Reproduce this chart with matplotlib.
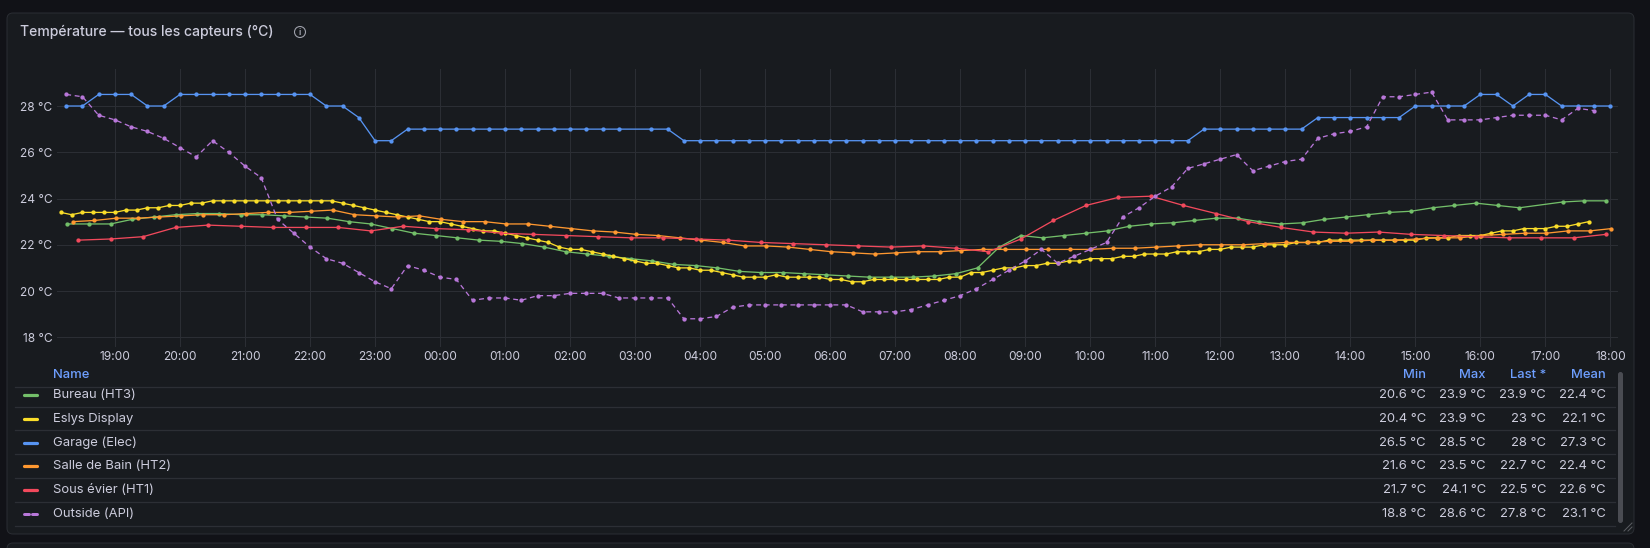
import numpy as np
import pandas as pd
import matplotlib
matplotlib.use("Agg")
import matplotlib.pyplot as plt
import matplotlib.dates as mdates
from matplotlib.patches import FancyBboxPatch, Circle
from matplotlib.lines import Line2D

nan = np.nan

# Bureau (HT3) - un point toutes les 20 min depuis 18:16
bureau = [22.9, 22.9, 22.9,
          23.1, 23.2, 23.3, 23.35, 23.35, 23.3, 23.3, 23.25, 23.2,
          23.15, 23.0, 22.9, 22.7, 22.5, 22.4, 22.3, 22.2, 22.15,
          22.05, 21.9, 21.7, 21.6, 21.5, 21.4, 21.3, 21.15, 21.1,
          21.0, 20.85, 20.8, 20.8, 20.75, 20.7, 20.65, 20.6, 20.6,
          20.6, 20.65, 20.75, 21.0, 21.9, 22.4, 22.3, 22.4, 22.5,
          22.6, 22.8, 22.9, 22.95, 23.05, 23.15, 23.15, 23.0, 22.9,
          22.95, 23.1, 23.2, 23.3, 23.4, 23.45, 23.6, 23.7, 23.8,
          23.7, 23.6, nan, 23.85, 23.9, 23.9]

# Eslys Display - toutes les 10 min depuis 18:10
eslys = [23.4, 23.3, 23.4, 23.4, 23.4,
         23.4, 23.5, 23.5, 23.6, 23.6, 23.7,
         23.7, 23.8, 23.8, 23.9, 23.9, 23.9,
         23.9, 23.9, 23.9, 23.9, 23.9, 23.9,
         23.9, 23.9, 23.9, 23.8, 23.7, 23.6,
         23.5, 23.4, 23.3, 23.2, 23.1, 23.0,
         23.0, 22.9, 22.8, 22.7, 22.6, 22.6,
         22.5, 22.4, 22.3, 22.2, 22.1, 21.9,
         21.8, 21.8, 21.7, 21.6, 21.5, 21.4,
         21.3, 21.2, 21.2, 21.1, 21.0, 21.0,
         20.9, 20.9, 20.8, 20.7, 20.6, 20.6,
         20.6, 20.7, 20.6, 20.6, 20.6, 20.6,
         20.5, 20.5, 20.4, 20.4, 20.5, 20.5,
         20.5, 20.5, 20.5, 20.5, 20.5, 20.6,
         20.6, 20.8, 20.8, 20.9, 21.0, 21.0,
         21.1, 21.1, 21.2, 21.2, 21.3, 21.3,
         21.4, 21.4, 21.4, 21.5, 21.5, 21.6,
         21.6, 21.6, 21.7, 21.7, 21.7, 21.8,
         21.8, 21.9, 21.9, 21.9, 22.0, 22.0,
         22.0, 22.1, 22.1, 22.1, 22.2, 22.2,
         22.2, 22.2, 22.2, 22.2, 22.2, 22.2,
         22.2, 22.3, 22.3, 22.3, 22.4, 22.4,
         22.4, 22.5, 22.6, 22.6, 22.7, 22.7,
         22.7, 22.8, 22.8, 22.9, 23.0]

# Garage (Elec) - toutes les 15 min depuis 18:15
garage = [28.0, 28.0, 28.5, 28.5, 28.5, 28.0, 28.0,
          28.5, 28.5, 28.5, 28.5, 28.5, 28.5, 28.5, 28.5, 28.5,
          28.0, 28.0, 27.5, 26.5, 26.5,
          27.0, 27.0, 27.0, 27.0, 27.0, 27.0, 27.0,
          27.0, 27.0, 27.0, 27.0, 27.0, 27.0, 27.0,
          nan, 27.0, 27.0,
          26.5, 26.5, 26.5, 26.5, 26.5, 26.5, 26.5, 26.5,
          26.5, 26.5, 26.5, 26.5, 26.5, 26.5, 26.5, 26.5,
          26.5, 26.5, 26.5, 26.5, 26.5, 26.5, 26.5, 26.5,
          26.5, 26.5, 26.5, 26.5, 26.5, 26.5, 26.5, 26.5,
          27.0, 27.0, 27.0, 27.0, 27.0, 27.0, 27.0,
          27.5, 27.5, 27.5, 27.5, 27.5, 27.5,
          28.0, 28.0, 28.0, 28.0,
          28.5, 28.5, 28.0, 28.5, 28.5,
          28.0, 28.0, 28.0, 28.0]

# Salle de Bain (HT2) - toutes les 20 min depuis 18:21
salle_bain = [23.0, 23.05,
              23.15, 23.15, 23.2, 23.25, 23.3, 23.3, 23.35, 23.4, 23.4,
              23.45, 23.5, 23.3, 23.25, 23.2, 23.25, 23.1, 23.0, 23.0,
              22.9, 22.9, 22.8, 22.7, 22.6, 22.55, 22.45, 22.4, 22.3,
              22.2, 22.1, 21.95, 21.95, 21.9, 21.8, 21.7, 21.65, 21.6,
              21.65, 21.7, 21.7, 21.75, 21.8, 21.8, 21.8, 21.8, 21.8,
              21.8, 21.85, 21.85, 21.9, 21.95, 22.0, 22.0, 22.0, 22.05,
              22.1, 22.1, 22.15, 22.15, 22.2, 22.2, 22.25, 22.3, 22.3,
              22.4, 22.45, 22.5, 22.5, 22.6, 22.6, 22.7]

# Sous évier (HT1) - toutes les 30 min depuis 18:26
sous_evier = [22.2, 22.25, 22.35, 22.75, 22.85, 22.8, 22.75, 22.75,
              22.75, 22.6, 22.8, 22.7, 22.65, 22.5,
              22.45, 22.4, 22.35, 22.3, 22.3, 22.25, 22.2, 22.1,
              22.05, 22.0, 21.95, 21.9, 21.95, 21.85, 21.7, 22.25,
              23.05, 23.7, 24.05, 24.1, 23.7, 23.35, 23.0, 22.75,
              22.55, 22.5, 22.55, 22.45, 22.4, 22.35, 22.3, 22.3,
              22.3, 22.45]

# Outside (API) - toutes les 15 min depuis 18:15
outside = [28.5, 28.4, 27.6, 27.4, 27.1, 26.9, 26.6, 26.2, 25.8, 26.5,
           26.0, 25.4, 24.9, 23.1, 22.5, 21.9, 21.4, 21.2, 20.8, 20.4,
           20.1, 21.1, 20.9, 20.6, 20.5, 19.6, 19.7, 19.7, 19.6,
           19.8, 19.8, 19.9, 19.9, 19.9, 19.7, 19.7, 19.7, 19.7,
           18.8, 18.8, 18.9, 19.3, 19.4, 19.4, 19.4, 19.4, 19.4, 19.4,
           19.4, 19.1, 19.1, 19.1, 19.2, 19.4, 19.6, 19.8, 20.1, 20.5,
           20.9, 21.3,
           21.8, 21.2, 21.5, 21.8, 22.1, 23.2, 23.6, 24.1, 24.5, 25.3,
           25.5, 25.7, 25.9, 25.2, 25.4, 25.6, 25.7, 26.6, 26.8, 26.9,
           27.1, 28.4, 28.4, 28.5, 28.6, 27.4, 27.4, 27.4, 27.5, 27.6,
           27.6, 27.6, 27.4, 27.9, 27.8]

noms = ["Bureau (HT3)", "Eslys Display", "Garage (Elec)",
        "Salle de Bain (HT2)", "Sous évier (HT1)", "Outside (API)"]
series = [bureau, eslys, garage, salle_bain, sous_evier, outside]
debuts = ["2025-06-10 18:16", "2025-06-10 18:10", "2025-06-10 18:15",
          "2025-06-10 18:21", "2025-06-10 18:26", "2025-06-10 18:15"]
pas = ["20min", "10min", "15min", "20min", "30min", "15min"]
couleurs = ["#73bf69", "#fade2a", "#5794f2", "#ff9830", "#f2495c", "#b877d9"]

stat_min = [20.6, 20.4, 26.5, 21.6, 21.7, 18.8]
stat_max = [23.9, 23.9, 28.5, 23.5, 24.1, 28.6]
stat_last = [23.9, 23.0, 28.0, 22.7, 22.5, 27.8]
stat_mean = [22.4, 22.1, 27.3, 22.4, 22.6, 23.1]

TXT = "#ccccdc"
BLEU = "#6e9fff"
PX = 0.72  # 1 px en points (dpi 100)

plt.rcParams["font.family"] = ["Inter", "DejaVu Sans"]

fig = plt.figure(figsize=(16.5, 5.48), dpi=100, facecolor="#111217")

# fond / panneau en coordonnées pixels
bg = fig.add_axes([0, 0, 1, 1])
bg.set_xlim(0, 1650)
bg.set_ylim(548, 0)
bg.axis("off")
bg.add_patch(FancyBboxPatch((7, 13), 1627, 521, boxstyle="round,pad=0,rounding_size=6",
                            fc="#181b1f", ec="#2a2d33", lw=1 * PX))
bg.add_patch(FancyBboxPatch((7, 543), 1627, 30, boxstyle="round,pad=0,rounding_size=6",
                            fc="#181b1f", ec="#2a2d33", lw=1 * PX))

bg.text(20, 32, "Température — tous les capteurs (°C)", color=TXT,
        fontsize=14 * PX, fontweight="medium", va="center", ha="left")
bg.add_patch(Circle((300, 32), 5.5, fc="none", ec="#9fa1ab", lw=1.1 * PX))
bg.text(300, 32.5, "i", color="#9fa1ab", fontsize=8 * PX, fontweight="bold",
        ha="center", va="center")

# graphique
ax = fig.add_axes([57 / 1650, 1 - 347 / 548, (1618 - 57) / 1650, (347 - 69) / 548])
ax.set_facecolor("none")
ax.set_zorder(2)

for nom, vals, deb, f, c in zip(noms, series, debuts, pas, couleurs):
    s = pd.Series(vals, index=pd.date_range(deb, periods=len(vals), freq=f)).dropna()
    ls = (0, (3.8, 2.8)) if nom == "Outside (API)" else "-"
    ax.plot(s.index, s.values, color=c, lw=1.3 * PX, ls=ls,
            marker="o", ms=4.3 * PX, mec="none")

ax.set_xlim(pd.Timestamp("2025-06-10 18:06:30"), pd.Timestamp("2025-06-11 18:07"))
ax.set_ylim(17.58, 29.6)
ax.set_yticks([18, 20, 22, 24, 26, 28])
ax.set_yticklabels([f"{v} °C" for v in [18, 20, 22, 24, 26, 28]])
ax.xaxis.set_major_locator(mdates.HourLocator())
ax.xaxis.set_major_formatter(mdates.DateFormatter("%H:%M"))
ax.tick_params(length=0, colors=TXT, labelsize=12 * PX)
ax.tick_params(axis="y", pad=4.5 * PX)
ax.tick_params(axis="x", pad=4 * PX)
ax.grid(True, color="#2b2e34", lw=1 * PX)
for sp in ax.spines.values():
    sp.set_visible(False)

# légende en tableau
cols_x = [1426, 1486, 1546, 1606]
bg.text(53, 375, "Name", color=BLEU, fontsize=13 * PX, fontweight="medium", va="center")
for x, lab in zip(cols_x, ["Min", "Max", "Last *", "Mean"]):
    bg.text(x, 375, lab, color=BLEU, fontsize=13 * PX, fontweight="medium",
            va="center", ha="right")

for y in [387.3, 406.7, 430.3, 454.3, 478, 502, 525.7]:
    bg.add_line(Line2D([15, 1615], [y, y], color="#2c2f35", lw=1.3 * PX))

rows_y = [395, 418.7, 442.7, 466.3, 490, 514]


def fmt(v):
    return f"{v:g} °C"


for i, y in enumerate(rows_y):
    c = couleurs[i]
    if noms[i] == "Outside (API)":
        bg.add_line(Line2D([24, 29], [y, y], color=c, lw=3 * PX, solid_capstyle="round"))
        bg.add_line(Line2D([32, 37], [y, y], color=c, lw=3 * PX, solid_capstyle="round"))
    else:
        bg.add_line(Line2D([24, 36.5], [y, y], color=c, lw=3.2 * PX, solid_capstyle="round"))
    bg.text(53, y, noms[i], color=TXT, fontsize=13 * PX, va="center")
    for x, v in zip(cols_x, [stat_min[i], stat_max[i], stat_last[i], stat_mean[i]]):
        bg.text(x, y, fmt(v), color=TXT, fontsize=13 * PX, va="center", ha="right")

# barre de défilement
bg.add_patch(FancyBboxPatch((1618, 372), 5, 151, boxstyle="round,pad=0,rounding_size=2.5",
                            fc="#4a4c52", ec="none"))
# poignée de redimensionnement
bg.add_line(Line2D([1624, 1632], [531, 523], color="#5a5c62", lw=1 * PX))
bg.add_line(Line2D([1628, 1632], [531, 527], color="#5a5c62", lw=1 * PX))

fig.savefig("out.png", dpi=100, facecolor=fig.get_facecolor())
